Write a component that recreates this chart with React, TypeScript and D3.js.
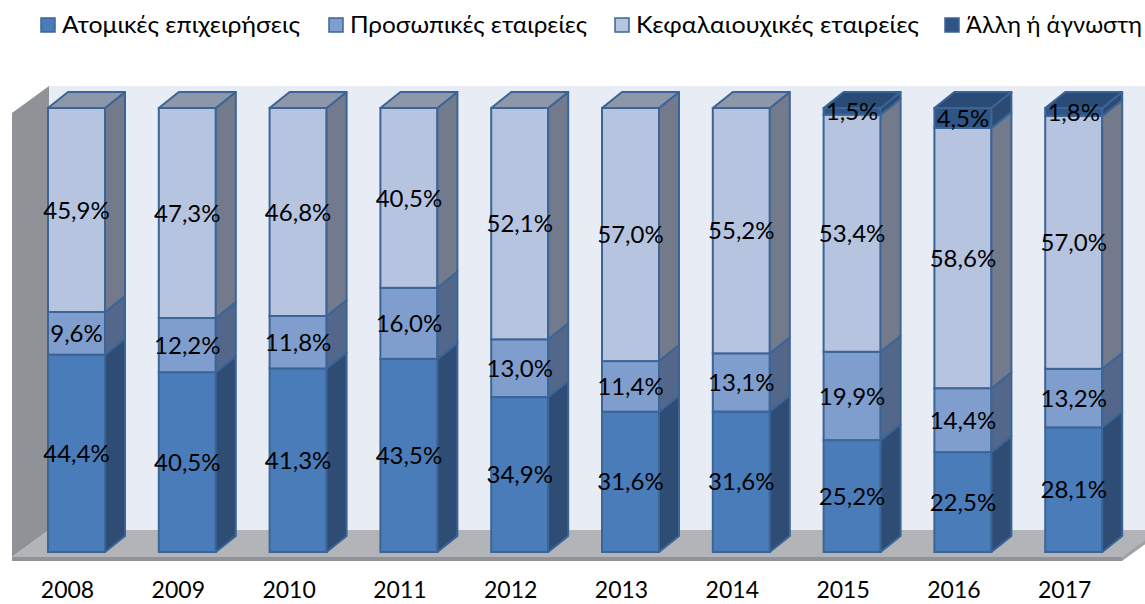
import React from "react";
import * as d3 from "d3";

const years = ["2008", "2009", "2010", "2011", "2012", "2013", "2014", "2015", "2016", "2017"];
const seriesNames = ["Ατομικές επιχειρήσεις", "Προσωπικές εταιρείες", "Κεφαλαιουχικές εταιρείες", "Άλλη ή άγνωστη"];
const atomikes = [44.4, 40.5, 41.3, 43.5, 34.9, 31.6, 31.6, 25.2, 22.5, 28.1];
const prosopikes = [9.6, 12.2, 11.8, 16.0, 13.0, 11.4, 13.1, 19.9, 14.4, 13.2];
const kefalaiouxikes = [45.9, 47.3, 46.8, 40.5, 52.1, 57.0, 55.2, 53.4, 58.6, 57.0];
const alli = [0, 0, 0, 0, 0, 0, 0, 1.5, 4.5, 1.8];

const frontColors = ["#4A7CB9", "#7F9ECE", "#B6C4E0", "#2F5586"];
const sideColors = ["#2E4C74", "#52678A", "#737A8B", "#2C4A72"];
const topColors = ["#3F6A9E", "#6E88B0", "#8D97AA", "#2B4B77"];
const strokeColor = "#3B6597";

const W = 1145;
const H = 604;
const DX = 20;
const DY = -16;

export default function App() {
  const keys = ["a", "p", "k", "o"];
  const rows = years.map((y, i) => ({ year: y, a: atomikes[i], p: prosopikes[i], k: kefalaiouxikes[i], o: alli[i] }));
  const stack = d3.stack<any>().keys(keys).offset(d3.stackOffsetExpand);
  const stacked = stack(rows);
  const x = d3.scaleBand().domain(years).range([48, 1102.2]).paddingInner(0.4856).paddingOuter(0);
  const y = d3.scaleLinear().domain([0, 1]).range([552, 108]);
  const bw = x.bandwidth();
  const font = "Lato, 'Open Sans', sans-serif";
  const values = [atomikes, prosopikes, kefalaiouxikes, alli];
  const fmt = (v: number) => v.toFixed(1).replace(".", ",") + "%";

  const legendX = [41, 329, 615, 945];
  const legendLen = [238, 237, 283, 176];

  return (
    <svg width={W} height={H} style={{ position: "absolute", left: 0, top: 0, display: "block" }}>
      <rect x={0} y={0} width={W} height={H} fill="#ffffff" />
      {/* back wall */}
      <rect x={49} y={86} width={1120} height={444} fill="#E8ECF5" />
      {/* left wall */}
      <polygon points="12,113 49,86 49,530 12,557" fill="#8F9296" />
      {/* floor */}
      <polygon points="12,557 49,530 1170,530 1122,557" fill="#B2B4B8" />
      <polygon points="12,557 1122,557 1122,561 12,561" fill="#909397" />
      <polygon points="1122,557 1170,522 1170,526 1122,561" fill="#A0A2A6" />

      {/* bars */}
      {years.map((yr, i) => {
        const xl = x(yr) as number;
        const xr = xl + bw;
        let topIdx = 0;
        for (let s = 0; s < keys.length; s++) if (values[s][i] > 0) topIdx = s;
        return (
          <g key={yr}>
            {stacked.map((ser, s) => {
              const d = ser[i];
              if (values[s][i] <= 0) return null;
              const y0 = y(d[0]);
              const y1 = y(d[1]);
              return (
                <g key={s}>
                  <rect x={xl} y={y1} width={bw} height={y0 - y1} fill={frontColors[s]} stroke={strokeColor} strokeWidth={2} />
                  <polygon
                    points={`${xr},${y0} ${xr + DX},${y0 + DY} ${xr + DX},${y1 + DY} ${xr},${y1}`}
                    fill={sideColors[s]}
                    stroke={strokeColor}
                    strokeWidth={2}
                    strokeLinejoin="round"
                  />
                </g>
              );
            })}
            {(() => {
              const yt = y(stacked[topIdx][i][1]);
              return (
                <polygon
                  points={`${xl},${yt} ${xl + DX},${yt + DY} ${xr + DX},${yt + DY} ${xr},${yt}`}
                  fill={topColors[topIdx]}
                  stroke={strokeColor}
                  strokeWidth={2}
                  strokeLinejoin="round"
                />
              );
            })()}
          </g>
        );
      })}

      {/* data labels */}
      {years.map((yr, i) => {
        const xc = (x(yr) as number) + bw / 2;
        return stacked.map((ser, s) => {
          const v = values[s][i];
          if (v <= 0) return null;
          const d = ser[i];
          const ym = (y(d[0]) + y(d[1])) / 2;
          return (
            <text key={`${yr}-${s}`} x={xc} y={ym} dy="0.36em" textAnchor="middle" fontFamily={font} fontSize={24} fill="#000">
              {fmt(v)}
            </text>
          );
        });
      })}

      {/* year labels */}
      {years.map((yr) => (
        <text key={yr} x={(x(yr) as number) + bw / 2 - 9} y={598} textAnchor="middle" fontFamily={font} fontSize={23} fill="#000">
          {yr}
        </text>
      ))}

      {/* legend */}
      {seriesNames.map((n, s) => (
        <g key={n}>
          <rect x={legendX[s]} y={18} width={14} height={14} fill={frontColors[s]} stroke={strokeColor} strokeWidth={1.5} />
          <text
            x={legendX[s] + 21}
            y={33}
            fontFamily={font}
            fontSize={24}
            fill="#000"
            textLength={legendLen[s]}
            lengthAdjust="spacingAndGlyphs"
          >
            {n}
          </text>
        </g>
      ))}
    </svg>
  );
}
